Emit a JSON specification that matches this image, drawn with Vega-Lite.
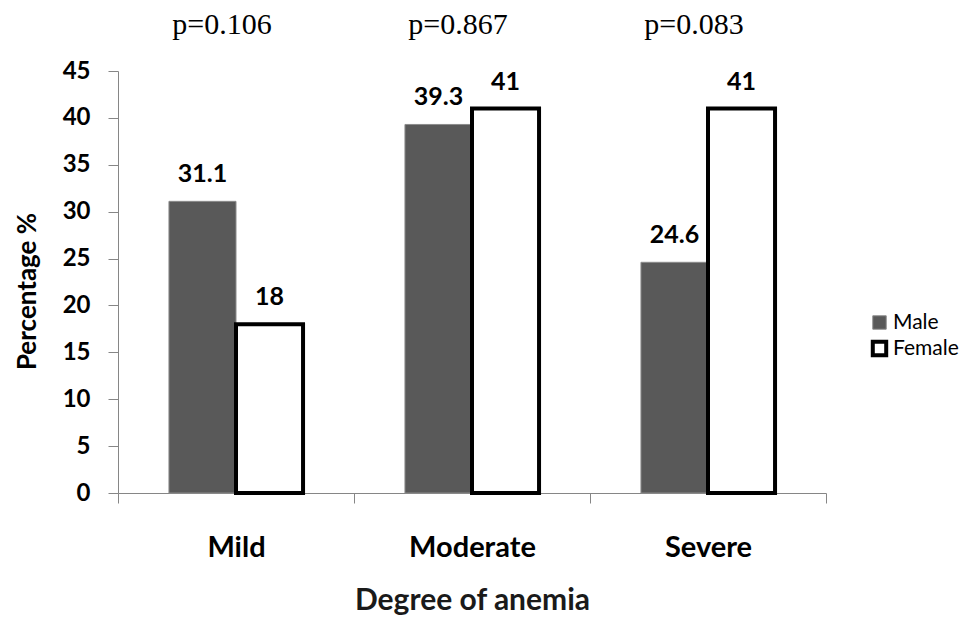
{
  "$schema": "https://vega.github.io/schema/vega-lite/v6.json",
  "autosize": "none",
  "width": 708,
  "height": 422,
  "padding": {"left": 118, "top": 71, "right": 148, "bottom": 128},
  "background": "white",
  "config": {
    "view": {"stroke": null},
    "font": "Lato"
  },
  "datasets": {
    "bars": [
      {"degree": "Mild", "sex": "Male", "pct": 31.1},
      {"degree": "Mild", "sex": "Female", "pct": 18},
      {"degree": "Moderate", "sex": "Male", "pct": 39.3},
      {"degree": "Moderate", "sex": "Female", "pct": 41},
      {"degree": "Severe", "sex": "Male", "pct": 24.6},
      {"degree": "Severe", "sex": "Female", "pct": 41}
    ],
    "tests": [
      {"degree": "Mild", "p": "p=0.106"},
      {"degree": "Moderate", "p": "p=0.867"},
      {"degree": "Severe", "p": "p=0.083"}
    ]
  },
  "encoding": {
    "x": {
      "field": "degree",
      "type": "nominal",
      "sort": ["Mild", "Moderate", "Severe"],
      "scale": {"paddingInner": 0, "paddingOuter": 0},
      "axis": {
        "title": "Degree of anemia",
        "titleFont": "Lato",
        "titleFontSize": 30,
        "titleFontWeight": "bold",
        "titleColor": "#1a1a1a",
        "titleX": 354,
        "titleY": 116,
        "titleBaseline": "alphabetic",
        "labelAngle": 0,
        "labelFont": "Lato",
        "labelFontSize": 29,
        "labelFontWeight": "bold",
        "labelColor": "black",
        "labelPadding": 30,
        "tickBand": "extent",
        "tickSize": 10,
        "tickColor": "#868686",
        "domainColor": "#868686",
        "grid": false
      }
    }
  },
  "layer": [
    {
      "data": {"name": "bars"},
      "mark": {"type": "bar"},
      "encoding": {
        "xOffset": {
          "field": "sex",
          "type": "nominal",
          "sort": ["Male", "Female"],
          "scale": {"paddingInner": 0, "paddingOuter": 0.76}
        },
        "y": {
          "field": "pct",
          "type": "quantitative",
          "scale": {"domain": [0, 45]},
          "axis": {
            "title": "Percentage  %",
            "titleFont": "Lato",
            "titleFontSize": 26,
            "titleFontWeight": "bold",
            "titleColor": "black",
            "titleX": -91,
            "titleY": 220,
            "titleAnchor": "middle",
            "titleBaseline": "middle",
            "values": [0, 5, 10, 15, 20, 25, 30, 35, 40, 45],
            "labelFont": "Lato",
            "labelFontSize": 24,
            "labelFontWeight": "bold",
            "labelColor": "black",
            "labelPadding": 18,
            "tickSize": 10,
            "tickColor": "#868686",
            "domainColor": "#868686",
            "grid": false
          }
        },
        "fill": {
          "field": "sex",
          "type": "ordinal",
          "sort": ["Male", "Female"],
          "scale": {"domain": ["Male", "Female"], "range": ["#595959", "#ffffff"]},
          "legend": {
            "title": null,
            "orient": "none",
            "legendX": 751,
            "legendY": 241,
            "symbolType": "square",
            "symbolSize": 180,
            "labelFont": "Lato",
            "labelFontSize": 21,
            "labelColor": "black",
            "labelOffset": 3,
            "rowPadding": 0
          }
        },
        "stroke": {
          "field": "sex",
          "type": "ordinal",
          "sort": ["Male", "Female"],
          "scale": {"domain": ["Male", "Female"], "range": ["#8c8c8c", "#000000"]}
        },
        "strokeWidth": {
          "field": "sex",
          "type": "ordinal",
          "sort": ["Male", "Female"],
          "scale": {"domain": ["Male", "Female"], "range": [1, 4]}
        }
      }
    },
    {
      "data": {"name": "bars"},
      "mark": {
        "type": "text",
        "baseline": "alphabetic",
        "dy": -19,
        "font": "Lato",
        "fontSize": 25,
        "fontWeight": "bold",
        "color": "black"
      },
      "encoding": {
        "xOffset": {
          "field": "sex",
          "type": "nominal",
          "sort": ["Male", "Female"],
          "scale": {"paddingInner": 0, "paddingOuter": 0.76}
        },
        "y": {"field": "pct", "type": "quantitative"},
        "text": {"field": "pct", "type": "quantitative"}
      }
    },
    {
      "data": {"name": "tests"},
      "mark": {
        "type": "text",
        "baseline": "middle",
        "dx": -14,
        "font": "Liberation Serif",
        "fontSize": 30,
        "color": "black"
      },
      "encoding": {
        "y": {"value": -46},
        "text": {"field": "p", "type": "nominal"}
      }
    }
  ]
}
